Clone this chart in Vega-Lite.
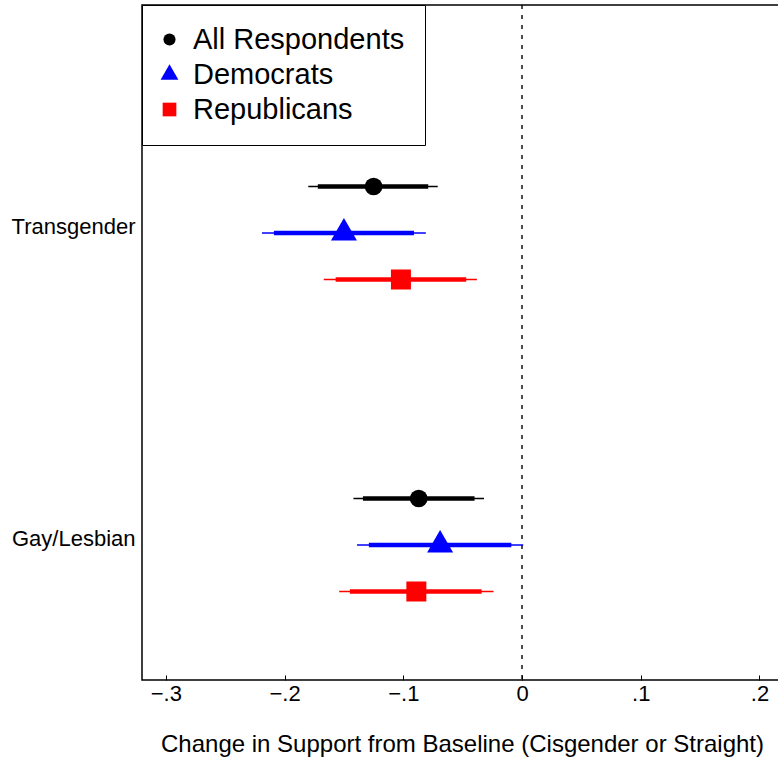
{
  "$schema": "https://vega.github.io/schema/vega-lite/v6.json",
  "width": 640,
  "height": 675,
  "autosize": {"type": "none"},
  "padding": {"left": 142, "top": 5, "right": 0, "bottom": 79},
  "background": "white",
  "config": {
    "view": {"stroke": "black", "strokeWidth": 1.5},
    "font": "Liberation Sans",
    "axis": {"grid": false, "labelColor": "black", "titleColor": "black", "labelFont": "Liberation Sans", "titleFont": "Liberation Sans", "titleFontWeight": "normal"}
  },
  "datasets": {
    "est": [
      {"cat": "Transgender", "group": "All Respondents", "est": -0.125, "lo95": -0.180, "hi95": -0.071, "lo90": -0.172, "hi90": -0.079},
      {"cat": "Transgender", "group": "Democrats", "est": -0.150, "lo95": -0.219, "hi95": -0.081, "lo90": -0.209, "hi90": -0.091},
      {"cat": "Transgender", "group": "Republicans", "est": -0.102, "lo95": -0.167, "hi95": -0.038, "lo90": -0.157, "hi90": -0.047},
      {"cat": "Gay/Lesbian", "group": "All Respondents", "est": -0.087, "lo95": -0.142, "hi95": -0.032, "lo90": -0.134, "hi90": -0.040},
      {"cat": "Gay/Lesbian", "group": "Democrats", "est": -0.069, "lo95": -0.139, "hi95": 0.001, "lo90": -0.129, "hi90": -0.009},
      {"cat": "Gay/Lesbian", "group": "Republicans", "est": -0.089, "lo95": -0.154, "hi95": -0.024, "lo90": -0.145, "hi90": -0.034}
    ],
    "ref": [{"x": 0}]
  },
  "resolve": {"legend": {"color": "independent", "shape": "independent"}},
  "layer": [
    {
      "data": {"name": "ref"},
      "mark": {"type": "rule", "color": "black", "strokeWidth": 1.4, "strokeDash": [4, 6]},
      "encoding": {
        "x": {"field": "x", "type": "quantitative", "scale": {"domain": [-0.3201, 0.219], "nice": false, "zero": false},
          "axis": {"values": [-0.3, -0.2, -0.1, 0, 0.1, 0.2], "labelExpr": "datum.value == 0 ? '0' : replace(format(datum.value, '.1f'), '0.', '.')", "labelFontSize": 22, "tickSize": -5, "tickColor": "black", "tickWidth": 1, "domain": false, "labelPadding": 8, "title": "Change in Support from Baseline (Cisgender or Straight)", "titleFontSize": 24, "titlePadding": 28}}
      }
    },
    {
      "data": {"name": "est"},
      "mark": {"type": "rule", "strokeWidth": 1.5},
      "encoding": {
        "y": {"field": "cat", "type": "nominal", "scale": {"domain": ["Transgender", "Gay/Lesbian"], "range": [72, 696], "paddingInner": 0, "paddingOuter": 0},
          "axis": {"title": null, "domain": false, "ticks": false, "labelFontSize": 22, "labelPadding": 7, "labelOffset": -6}},
        "yOffset": {"field": "group", "type": "nominal", "scale": {"domain": ["All Respondents", "Democrats", "Republicans"], "range": [86.25, 225.75], "paddingInner": 0, "paddingOuter": 0}},
        "x": {"field": "lo95", "type": "quantitative"},
        "x2": {"field": "hi95"},
        "color": {"field": "group", "type": "nominal", "scale": {"domain": ["All Respondents", "Democrats", "Republicans"], "range": ["black", "#0000ff", "#ff0000"]}, "legend": null}
      }
    },
    {
      "data": {"name": "est"},
      "mark": {"type": "rule", "strokeWidth": 4.5},
      "encoding": {
        "y": {"field": "cat", "type": "nominal"},
        "yOffset": {"field": "group", "type": "nominal"},
        "x": {"field": "lo90", "type": "quantitative"},
        "x2": {"field": "hi90"},
        "color": {"field": "group", "type": "nominal", "legend": null}
      }
    },
    {
      "data": {"name": "est"},
      "mark": {"type": "point", "filled": true, "opacity": 1, "size": 314},
      "encoding": {
        "y": {"field": "cat", "type": "nominal"},
        "yOffset": {"field": "group", "type": "nominal"},
        "x": {"field": "est", "type": "quantitative"},
        "color": {"field": "group", "type": "nominal",
          "legend": {"title": null, "orient": "none", "legendX": 0, "legendY": 0, "strokeColor": "black", "fillColor": "white", "padding": 20, "labelFontSize": 29, "labelFont": "Liberation Sans", "labelColor": "black", "labelLimit": 0, "symbolSize": 147, "symbolOffset": -7, "rowPadding": 5, "labelOffset": 9, "symbolOpacity": 1}},
        "shape": {"field": "group", "type": "nominal", "scale": {"domain": ["All Respondents", "Democrats", "Republicans"], "range": ["circle", "M0,-1.693L1.467,0.847L-1.467,0.847Z", "M-1.129,-1.129L1.129,-1.129L1.129,1.129L-1.129,1.129Z"]},
          "legend": {"title": null, "orient": "none", "legendX": 0, "legendY": 0, "strokeColor": "black", "fillColor": "white", "padding": 20, "labelFontSize": 29, "labelFont": "Liberation Sans", "labelColor": "black", "labelLimit": 0, "symbolSize": 147, "symbolOffset": -7, "rowPadding": 5, "labelOffset": 9, "symbolOpacity": 1}}
      }
    }
  ]
}
